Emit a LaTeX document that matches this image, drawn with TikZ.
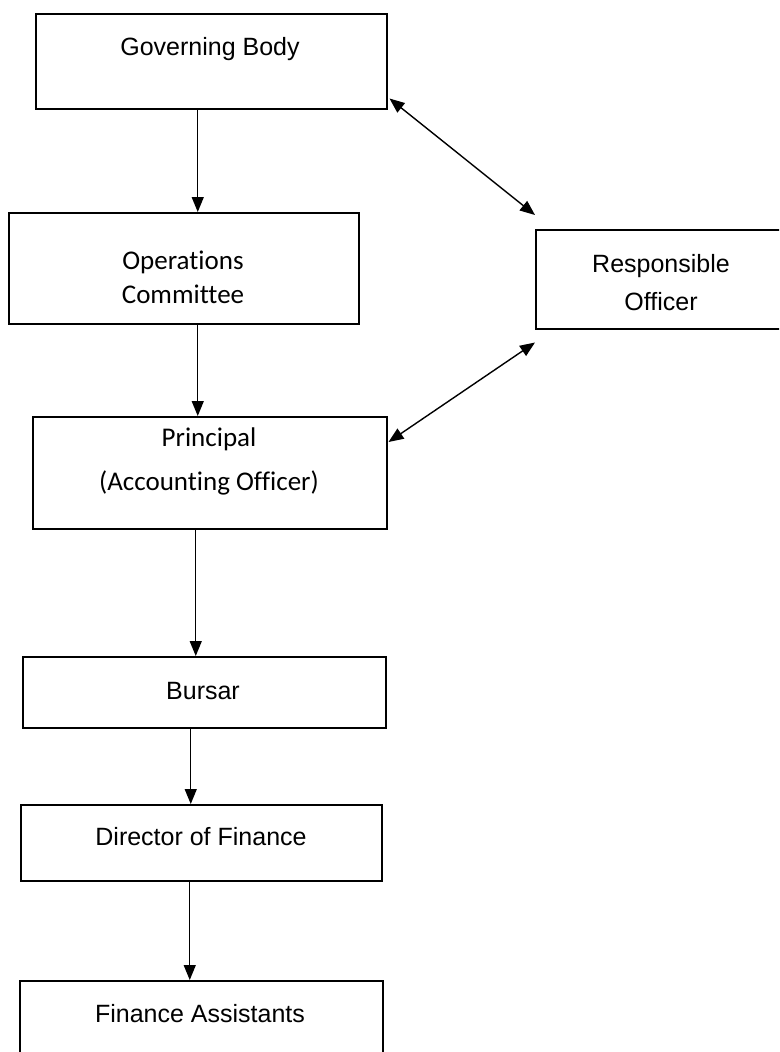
\documentclass[tikz,border=0pt]{standalone}
\usepackage{fontspec}
\setmainfont{Liberation Sans}
\newfontfamily\calib[Ligatures=NoCommon]{Carlito}
\usetikzlibrary{arrows.meta}
\begin{document}
\begin{tikzpicture}[x=1pt,y=-1pt,
  box/.style={draw=black,line width=1.5pt,inner sep=0pt,anchor=north west},
  arial/.style={font=\fontsize{25}{38}\selectfont,inner sep=0pt,anchor=base,align=center},
  calibri/.style={font=\calib\fontsize{27}{34}\selectfont,inner sep=0pt,anchor=base,align=center},
  flow/.style={line width=1.4pt,-{Triangle[width=12pt,length=15pt]}},
  both/.style={line width=1.4pt,{Triangle[width=12pt,length=15pt]}-{Triangle[width=12pt,length=15pt]}}]
\useasboundingbox (0,0) rectangle (779,1052);
\clip (0,0) rectangle (779,1052);
\fill[white] (0,0) rectangle (779,1052);

% boxes
\node[box,minimum width=351pt,minimum height=95pt]  (gb) at (35,13)  {};
\node[box,minimum width=350pt,minimum height=111pt] (oc) at (8,212)  {};
\node[box,minimum width=354pt,minimum height=112pt] (pr) at (32,416) {};
\node[box,minimum width=265pt,minimum height=99pt]  (ro) at (535,229) {};
\node[box,minimum width=363pt,minimum height=71pt]  (bu) at (22,656) {};
\node[box,minimum width=361pt,minimum height=76pt]  (df) at (20,804) {};
\node[box,minimum width=363pt,minimum height=95pt]  (fa) at (19,980) {};

% labels (multi-line labels are anchored on their last baseline)
\node[arial] (tgb) at (210,55) {Governing Body};
\node[calibri] (toc) at (183,303) {Operations\\Committee};
\node[calibri,font=\calib\fontsize{27}{44}\selectfont] (tpr) at (209,490) {Principal\\(Accounting Officer)};
\node[arial] (tro) at (661,310) {Responsible\\Officer};
\node[arial] (tbu) at (203,699) {Bursar};
\node[arial] (tdf) at (201,845) {Director of Finance};
\node[arial] (tfa) at (200,1022) {Finance Assistants};

% reporting lines
\draw[flow] ([xshift=-13.5pt]gb.south) -- ([xshift=14pt]oc.north);
\draw[flow] ([xshift=14pt]oc.south) -- ([xshift=-12pt]pr.north);
\draw[flow] ([xshift=-14pt]pr.south) -- ([xshift=-8.5pt]bu.north);
\draw[flow] ([xshift=-13.5pt]bu.south) -- ([xshift=-10.5pt]df.north);
\draw[flow] ([xshift=-11.5pt]df.south) -- ([xshift=-11.5pt]fa.north);

% links with the Responsible Officer
\draw[both] ([shift={(2,-11)}]gb.south east) -- ([shift={(0,-14)}]ro.north west);
\draw[both] ([shift={(1,26)}]pr.north east) -- ([shift={(0,13)}]ro.south west);
\end{tikzpicture}
\end{document}
